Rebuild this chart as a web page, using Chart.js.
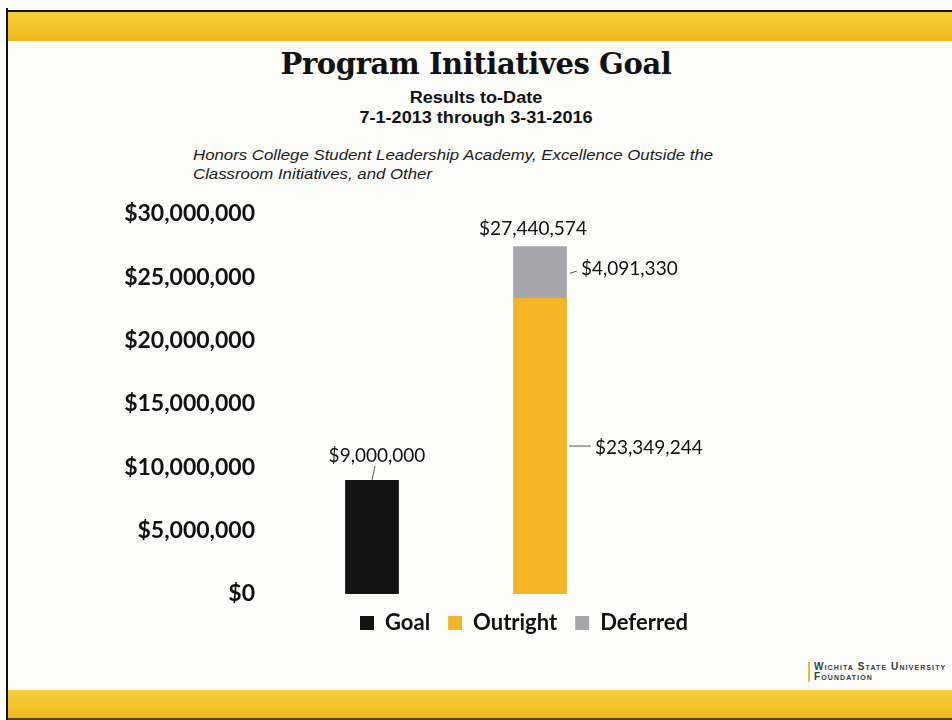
<!DOCTYPE html>
<html>
<head>
<meta charset="utf-8">
<script src="https://cdn.jsdelivr.net/npm/chart.js@4"></script>
<style>
  html, body { margin: 0; padding: 0; background: #fff; }
  #slide { position: relative; width: 952px; height: 720px; background: #fdfdfc; overflow: hidden; }
  .band { position: absolute; left: 7px; right: 0; background: linear-gradient(180deg, #f6cf3a 0%, #f3c42c 55%, #eeb81f 100%); }
  #topBand { top: 10px; height: 29px; border-top: 2px solid #1b1408; }
  #bottomBand { top: 690px; height: 28px; border-bottom: 2px solid #5a4410; }
  #leftRule { position: absolute; left: 6px; top: 8px; width: 2px; height: 712px; background: #111; }
  .t { position: absolute; left: 0; width: 952px; text-align: center; color: #111; }
  #title { top: 47px; font-family: "DejaVu Serif", serif; font-weight: bold; font-size: 29px; letter-spacing: -0.4px; }
  #sub1, #sub2 { font: bold 16px "Liberation Sans", sans-serif; transform: scaleX(1.13); }
  #sub1 { top: 89px; }
  #sub2 { top: 109px; }
  #note { position: absolute; left: 193px; top: 146px; font: italic 14px/19px "Liberation Sans", sans-serif; color: #1a1a1a; transform: scaleX(1.2); transform-origin: 0 0; }
  #logo { position: absolute; left: 808px; top: 662px; padding-left: 4px; border-left: 2px solid #f0bd2a; font: bold 10px/10px "Liberation Sans", sans-serif; color: #3a3a3a; font-variant: small-caps; letter-spacing: 1.1px; }
  #chartBox { position: absolute; left: 0; top: 167px; width: 952px; height: 483px; }
</style>
</head>
<body>
<div id="slide">
  <div id="topBand" class="band"></div>
  <div id="bottomBand" class="band"></div>
  <div id="leftRule"></div>
  <div id="title" class="t">Program Initiatives Goal</div>
  <div id="sub1" class="t">Results to-Date</div>
  <div id="sub2" class="t">7-1-2013 through 3-31-2016</div>
  <div id="note">Honors College Student Leadership Academy, Excellence Outside the<br>Classroom Initiatives, and Other</div>
  <div id="logo">Wichita State University<br>Foundation</div>
  <div id="chartBox"><canvas id="myChart"></canvas></div>
</div>
<script>
var categories = ["Goal", "Results", ""];
var goalValues = [9000000, null, null];
var outrightValues = [null, 23349244, null];
var deferredValues = [null, 4091330, null];
var yTicks = [0, 5000000, 10000000, 15000000, 20000000, 25000000, 30000000];

var barColors = ["#141414", "#f1b527", "#a6a5ab"];

function money(v) {
  return "$" + Number(v).toLocaleString("en-US");
}

// value labels with small leader lines next to the bars
var valueLabels = {
  id: "valueLabels",
  afterDatasetsDraw: function (chart) {
    var ctx = chart.ctx;
    ctx.save();
    ctx.font = "19px Lato";
    ctx.fillStyle = "#111";
    ctx.strokeStyle = "#555";
    ctx.lineWidth = 1;
    ctx.textBaseline = "middle";

    // goal bar
    var g = chart.getDatasetMeta(0).data[0];
    ctx.beginPath();
    ctx.moveTo(g.x, g.y);
    ctx.lineTo(g.x + 3, g.y - 14);
    ctx.stroke();
    ctx.textAlign = "center";
    ctx.fillText(money(goalValues[0]), g.x + 5, g.y - 24);

    // outright segment
    var o = chart.getDatasetMeta(1).data[1];
    var oMid = (o.y + o.base) / 2;
    var right = o.x + o.width / 2;
    ctx.beginPath();
    ctx.moveTo(right + 2, oMid);
    ctx.lineTo(right + 24, oMid);
    ctx.stroke();
    ctx.textAlign = "left";
    ctx.fillText(money(outrightValues[1]), right + 28, oMid + 2);

    // deferred segment
    var d = chart.getDatasetMeta(2).data[1];
    var dMid = (d.y + d.base) / 2;
    ctx.beginPath();
    ctx.moveTo(right + 3, dMid + 1);
    ctx.lineTo(right + 10, dMid - 1);
    ctx.stroke();
    ctx.fillText(money(deferredValues[1]), right + 14, dMid - 3);

    // total on top of the stack
    ctx.textAlign = "center";
    ctx.fillText(money(outrightValues[1] + deferredValues[1]), d.x - 7, d.y - 17);
    ctx.restore();
  }
};

// nudge the legend so it sits under the bars
var legendShift = {
  id: "legendShift",
  afterLayout: function (chart) {
    chart.legend.left -= 16;
    chart.legend.right -= 16;
  }
};

new Chart("myChart", {
  type: "bar",
  data: {
    labels: categories,
    datasets: [
      { label: "Goal", data: goalValues, backgroundColor: barColors[0] },
      { label: "Outright", data: outrightValues, backgroundColor: barColors[1] },
      { label: "Deferred", data: deferredValues, backgroundColor: barColors[2] }
    ]
  },
  options: {
    responsive: true,
    maintainAspectRatio: false,
    animation: false,
    layout: { padding: { left: 0, right: 160, top: 0, bottom: 6 } },
    datasets: { bar: { categoryPercentage: 1, barPercentage: 0.32 } },
    plugins: {
      title: { display: false },
      tooltip: { enabled: false },
      legend: {
        position: "bottom",
        fullSize: false,
        labels: {
          boxWidth: 14,
          boxHeight: 14,
          padding: 18,
          color: "#111",
          font: { family: "Lato", size: 22, weight: "bold" }
        }
      }
    },
    scales: {
      x: { stacked: true, display: false },
      y: {
        stacked: true,
        min: 0,
        max: 30000000,
        afterFit: function (scale) { scale.width = 288; },
        afterBuildTicks: function (scale) {
          scale.ticks = yTicks.map(function (v) { return { value: v }; });
        },
        grid: { display: false, drawTicks: false },
        border: { display: false },
        ticks: {
          padding: 33,
          color: "#111",
          font: { family: "Lato", size: 23, weight: "bold" },
          callback: function (v) { return money(v); }
        }
      }
    }
  },
  plugins: [valueLabels, legendShift]
});
</script>
</body>
</html>
